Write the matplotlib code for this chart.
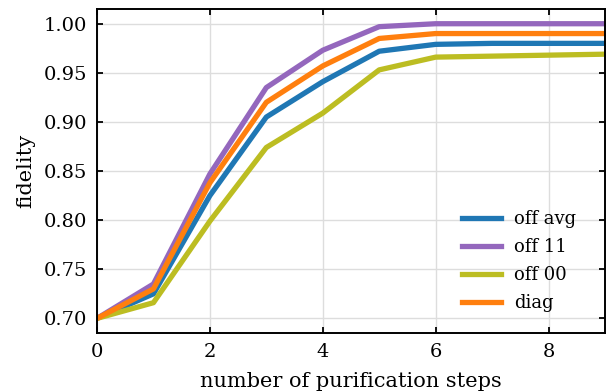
import matplotlib
matplotlib.use("Agg")
import matplotlib.pyplot as plt

steps = [0, 1, 2, 3, 4, 5, 6, 7, 8, 9]
off_avg = [0.700, 0.725, 0.825, 0.905, 0.941, 0.972, 0.979, 0.980, 0.980, 0.980]
off_11 = [0.700, 0.735, 0.847, 0.935, 0.973, 0.997, 1.000, 1.000, 1.000, 1.000]
off_00 = [0.700, 0.716, 0.799, 0.874, 0.909, 0.953, 0.966, 0.967, 0.968, 0.969]
diag = [0.700, 0.730, 0.838, 0.920, 0.957, 0.985, 0.990, 0.990, 0.990, 0.990]

plt.rcParams['font.family'] = ['DejaVu Serif']
fig = plt.figure(figsize=(6.12, 3.91), dpi=100)
ax = fig.add_axes([0.1585, 0.148, 0.830, 0.829])
lw = 3.8
ax.plot(steps, off_avg, color='tab:blue', lw=lw, label='off avg')
ax.plot(steps, off_11, color='tab:purple', lw=lw, label='off 11')
ax.plot(steps, off_00, color='tab:olive', lw=lw, label='off 00')
ax.plot(steps, diag, color='tab:orange', lw=lw, label='diag')
ax.set_xlim(0, 9)
ax.set_xticks([0, 2, 4, 6, 8])
ax.set_yticks([0.70, 0.75, 0.80, 0.85, 0.90, 0.95, 1.00])
ax.set_yticklabels(['0.70', '0.75', '0.80', '0.85', '0.90', '0.95', '1.00'])
ax.grid(True, color='#dddddd', lw=1)
ax.set_axisbelow(True)
ax.tick_params(direction='in', top=True, right=True, length=4, width=1.3, labelsize=14, pad=7)
for s in ax.spines.values():
    s.set_linewidth(1.4)
ax.set_xlabel('number of purification steps', fontsize=15, labelpad=8)
ax.set_ylabel('fidelity', fontsize=15, labelpad=6)
ax.legend(loc='lower right', frameon=False, fontsize=13, handlelength=2.2,
          labelspacing=0.55, handletextpad=0.7, bbox_to_anchor=(0.975, 0.015))
fig.savefig('out.png', dpi=100)
